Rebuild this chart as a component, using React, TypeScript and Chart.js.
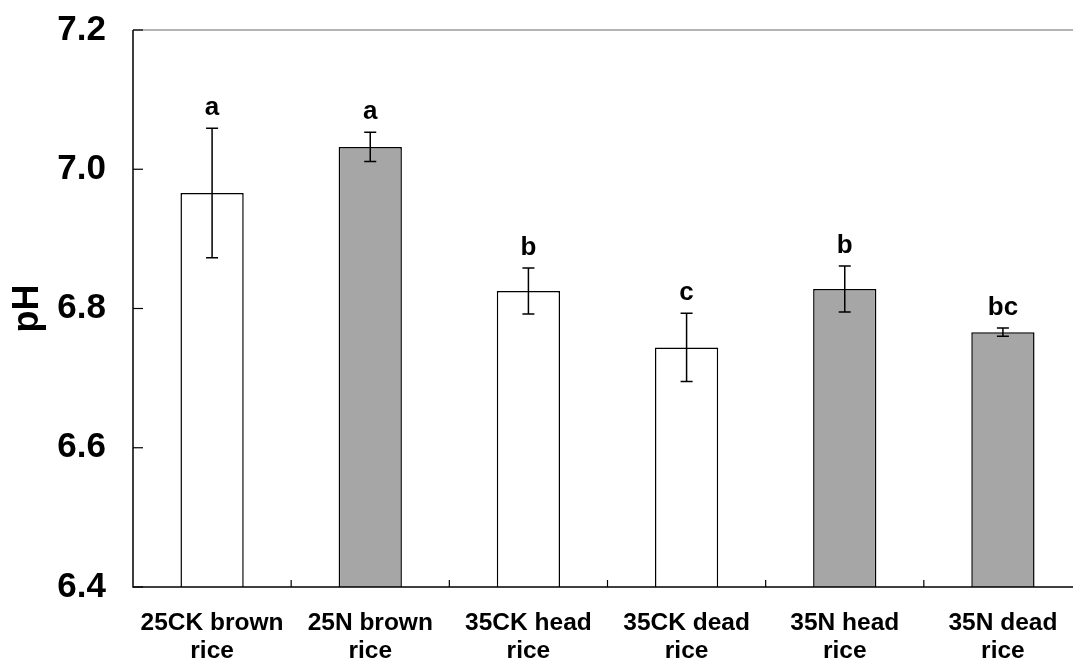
import { useEffect, useRef } from "react";
import { Chart, registerables } from "chart.js";

Chart.register(...registerables);

// Rice samples (two-line axis labels)
const categories: string[][] = [
  ["25CK brown", "rice"],
  ["25N brown", "rice"],
  ["35CK head", "rice"],
  ["35CK dead", "rice"],
  ["35N head", "rice"],
  ["35N dead", "rice"],
];

// Mean pH and standard error
const phMeans = [6.966, 7.032, 6.825, 6.744, 6.828, 6.766];
const phErrors = [0.093, 0.021, 0.033, 0.049, 0.033, 0.006];

// Significance letters above each bar
const sigLetters = ["a", "a", "b", "c", "b", "bc"];

// Treatment group of each bar (CK = control, N = nitrogen)
const treatments = ["CK", "N", "CK", "CK", "N", "N"];

// Y axis ticks
const yTicks = [6.4, 6.6, 6.8, 7.0, 7.2];
const yMin = 6.4;
const yMax = 7.2;

const FONT = "'Liberation Sans', Arial, sans-serif";
const CK_FILL = "#ffffff";
const N_FILL = "#a6a6a6";

const decorPlugin = {
  id: "phDecor",
  afterDatasetsDraw(chart: any) {
    const { ctx, chartArea, scales } = chart;
    const x = scales.x;
    const y = scales.y;
    const { left, right, top, bottom } = chartArea;

    ctx.save();

    // plot border at the top (light gray)
    ctx.strokeStyle = "#9a9a9a";
    ctx.lineWidth = 1.5;
    ctx.beginPath();
    ctx.moveTo(left, top);
    ctx.lineTo(right + 20, top);
    ctx.stroke();

    // axes
    ctx.strokeStyle = "#000";
    ctx.lineWidth = 1.5;
    ctx.beginPath();
    ctx.moveTo(left, top);
    ctx.lineTo(left, bottom);
    ctx.lineTo(right + 20, bottom);
    ctx.stroke();

    // inward y ticks
    ctx.lineWidth = 1.2;
    yTicks.forEach((v) => {
      const py = y.getPixelForValue(v);
      ctx.beginPath();
      ctx.moveTo(left, py);
      ctx.lineTo(left + 10, py);
      ctx.stroke();
    });

    // inward x ticks between categories
    const n = categories.length;
    const step = (right - left) / n;
    for (let i = 1; i < n; i++) {
      const px = left + step * i;
      ctx.beginPath();
      ctx.moveTo(px, bottom);
      ctx.lineTo(px, bottom - 7);
      ctx.stroke();
    }

    // error bars
    ctx.lineWidth = 1.5;
    phMeans.forEach((m, i) => {
      const cx = x.getPixelForValue(i);
      const yHi = y.getPixelForValue(m + phErrors[i]);
      const yLo = y.getPixelForValue(m - phErrors[i]);
      ctx.beginPath();
      ctx.moveTo(cx, yHi);
      ctx.lineTo(cx, yLo);
      ctx.moveTo(cx - 6, yHi);
      ctx.lineTo(cx + 6, yHi);
      ctx.moveTo(cx - 6, yLo);
      ctx.lineTo(cx + 6, yLo);
      ctx.stroke();
    });

    // significance letters
    ctx.fillStyle = "#000";
    ctx.font = `bold 26px ${FONT}`;
    ctx.textAlign = "center";
    ctx.textBaseline = "alphabetic";
    phMeans.forEach((m, i) => {
      const cx = x.getPixelForValue(i);
      const yHi = y.getPixelForValue(m + phErrors[i]);
      ctx.fillText(sigLetters[i], cx, yHi - 13);
    });

    // y tick labels
    ctx.font = `bold 35px ${FONT}`;
    ctx.textAlign = "right";
    ctx.textBaseline = "middle";
    yTicks.forEach((v) => {
      ctx.fillText(v.toFixed(1), left - 27, y.getPixelForValue(v));
    });

    // x category labels
    ctx.font = `bold 24.5px ${FONT}`;
    ctx.textAlign = "center";
    ctx.textBaseline = "alphabetic";
    categories.forEach((lines, i) => {
      const cx = x.getPixelForValue(i);
      lines.forEach((t, j) => {
        ctx.fillText(t, cx, bottom + 43 + j * 28);
      });
    });

    // y axis title
    ctx.font = `bold 36px ${FONT}`;
    ctx.translate(28, (top + bottom) / 2);
    ctx.rotate(-Math.PI / 2);
    ctx.textAlign = "center";
    ctx.textBaseline = "middle";
    ctx.fillText("pH", 0, 0);

    ctx.restore();
  },
};

export default function App() {
  const canvasRef = useRef<HTMLCanvasElement | null>(null);

  useEffect(() => {
    const canvas = canvasRef.current;
    if (!canvas) return;
    const chart = new Chart(canvas, {
      type: "bar",
      data: {
        labels: categories.map((c) => c.join(" ")),
        datasets: [
          {
            data: phMeans,
            backgroundColor: treatments.map((t) => (t === "CK" ? CK_FILL : N_FILL)),
            borderColor: "#000",
            borderWidth: 1.5,
            borderSkipped: "start",
            categoryPercentage: 1,
            barPercentage: 0.4,
          },
        ],
      },
      options: {
        responsive: false,
        animation: false,
        devicePixelRatio: 1,
        layout: { padding: { top: 30, right: 18, bottom: 0, left: 0 } },
        plugins: {
          legend: { display: false },
          tooltip: { enabled: false },
        },
        scales: {
          x: {
            grid: { display: false },
            border: { display: false },
            ticks: { display: false },
            afterFit: (s: any) => {
              s.height = 74;
            },
          },
          y: {
            min: yMin,
            max: yMax,
            grid: { display: false },
            border: { display: false },
            ticks: { display: false, stepSize: 0.2 },
            afterFit: (s: any) => {
              s.width = 133;
            },
          },
        },
      },
      plugins: [decorPlugin],
    });
    return () => chart.destroy();
  }, []);

  return (
    <div
      style={{
        position: "absolute",
        left: 0,
        top: 0,
        width: 1073,
        height: 661,
        overflow: "hidden",
        background: "#fff",
      }}
    >
      <canvas
        ref={canvasRef}
        width={1100}
        height={661}
        style={{ display: "block", width: 1100, height: 661 }}
      />
    </div>
  );
}
